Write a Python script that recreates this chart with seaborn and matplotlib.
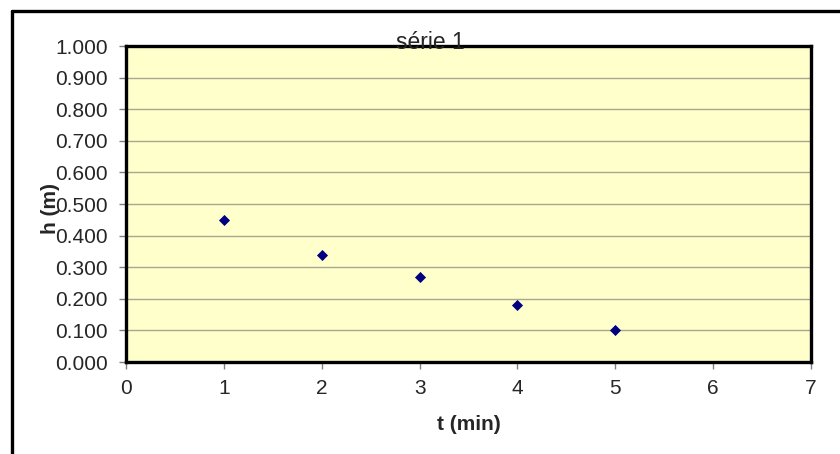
import matplotlib
matplotlib.use("Agg")
import matplotlib.pyplot as plt
import seaborn as sns
import pandas as pd
from matplotlib.lines import Line2D

# Measurements: time (min) and water height (m)
t_min = [1, 2, 3, 4, 5]
h_m = [0.450, 0.340, 0.270, 0.180, 0.100]
x_ticks = [0, 1, 2, 3, 4, 5, 6, 7]
y_ticks = [0.0, 0.1, 0.2, 0.3, 0.4, 0.5, 0.6, 0.7, 0.8, 0.9, 1.0]

sns.set_style("white")
plt.rcParams["font.family"] = ["Liberation Sans", "DejaVu Sans"]

df = pd.DataFrame({"t": t_min, "h": h_m})

W, H = 840, 454
fig = plt.figure(figsize=(8.4, 4.54), dpi=100)
ax = fig.add_axes([126 / W, 92 / H, 685 / W, 316 / H])
ax.set_facecolor("#FFFFCC")

sns.scatterplot(data=df, x="t", y="h", ax=ax, marker="D", s=32,
                color="#000080", edgecolor="#000080", linewidth=0, zorder=3)

ax.set_xlim(0, 7)
ax.set_ylim(0, 1)
ax.set_xticks(x_ticks)
ax.set_yticks(y_ticks)
ax.set_yticklabels([f"{v:.3f}" for v in y_ticks])
ax.grid(axis="y", color="#A8A890", linewidth=1)
ax.grid(axis="x", visible=False)
ax.tick_params(axis="both", which="major", labelsize=15, length=5, width=1,
               color="#808080", direction="out", bottom=True, left=True)
ax.tick_params(axis="x", pad=7)
ax.tick_params(axis="y", pad=8)
for sp in ax.spines.values():
    sp.set_color("black")
    sp.set_linewidth(2.4)

ax.set_xlabel("")
ax.set_ylabel("")
fig.text(469 / W, 1 - 424 / H, "t (min)", ha="center", va="center",
         fontsize=15, fontweight="bold")
fig.text(50 / W, 1 - 208 / H, "h (m)", ha="center", va="center",
         rotation=90, fontsize=15, fontweight="bold")
fig.text(430 / W, 1 - 49 / H, "série 1", ha="center", va="baseline",
         fontsize=16.5, zorder=0)

# Chart frame: top and left edges (the rest lies outside the canvas)
fig.lines.append(Line2D([11.5 / W, 1.0], [1 - 11 / H, 1 - 11 / H],
                        transform=fig.transFigure, color="black", linewidth=2.4))
fig.lines.append(Line2D([11.5 / W, 11.5 / W], [0.0, 1 - 11 / H],
                        transform=fig.transFigure, color="black", linewidth=2.4))

fig.savefig("out.png", dpi=100)
